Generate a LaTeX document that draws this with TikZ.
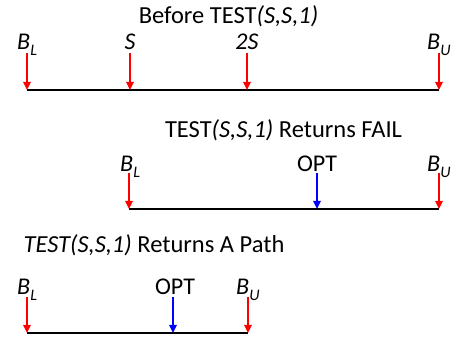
\documentclass[tikz,border=0pt]{standalone}
\usepackage{fontspec}
\setmainfont{Carlito}
\usetikzlibrary{arrows.meta}
\newcommand\mysub[1]{\raisebox{-0.22em}{\fontsize{16}{16}\selectfont\itshape #1}}
\begin{document}
\begin{tikzpicture}[x=1pt,y=-1pt,
  title/.style={inner sep=0pt,font=\fontsize{24.5}{24.5}\selectfont},
  lbl/.style={inner sep=0pt,font=\fontsize{24}{24}\selectfont},
  axis/.style={line width=1.8pt,black},
  redarrow/.style={line width=1.6pt,red,-{Triangle[width=7.5pt,length=8pt]}},
  bluearrow/.style={line width=1.6pt,blue,-{Triangle[width=7.5pt,length=8pt]}}]
\useasboundingbox (0,0) rectangle (455,344);
% Section 1
\node[title,anchor=base] (t1) at (228.5,24) {Before TEST\textit{(S,S,1)}};
\coordinate (a1) at (27,90); \coordinate (b1) at (439,90);
\draw[axis] (a1) -- (b1);
\node[lbl,anchor=base west] (l1a) at (17,50) {\textit{B}\mysub{L}};
\node[lbl,anchor=base] (l1b) at (130,50) {\textit{S}};
\node[lbl,anchor=base] (l1c) at (247,50) {\textit{2S}};
\node[lbl,anchor=base west] (l1d) at (427,50) {\textit{B}\mysub{U}};
\coordinate (p1a) at (27,53); \coordinate (q1a) at (27,90);
\coordinate (p1b) at (130,53); \coordinate (q1b) at (130,90);
\coordinate (p1c) at (247,53); \coordinate (q1c) at (247,90);
\coordinate (p1d) at (439,53); \coordinate (q1d) at (439,90);
\draw[redarrow] (p1a) -- (q1a);
\draw[redarrow] (p1b) -- (q1b);
\draw[redarrow] (p1c) -- (q1c);
\draw[redarrow] (p1d) -- (q1d);
% Section 2
\node[title,anchor=base] (t2) at (283.5,138) {TEST\textit{(S,S,1)} Returns FAIL};
\coordinate (a2) at (129,209); \coordinate (b2) at (439,209);
\draw[axis] (a2) -- (b2);
\node[lbl,anchor=base west] (l2a) at (120,172) {\textit{B}\mysub{L}};
\node[lbl,anchor=base] (l2b) at (317,172) {OPT};
\node[lbl,anchor=base west] (l2c) at (427,172) {\textit{B}\mysub{U}};
\coordinate (p2a) at (129,173); \coordinate (q2a) at (129,209);
\coordinate (p2b) at (317,173); \coordinate (q2b) at (317,209);
\coordinate (p2c) at (439,173); \coordinate (q2c) at (439,209);
\draw[redarrow] (p2a) -- (q2a);
\draw[bluearrow] (p2b) -- (q2b);
\draw[redarrow] (p2c) -- (q2c);
% Section 3
\node[title,anchor=base] (t3) at (154,253) {\textit{TEST(S,S,1)} Returns A Path};
\coordinate (a3) at (27,333); \coordinate (b3) at (248,333);
\draw[axis] (a3) -- (b3);
\node[lbl,anchor=base west] (l3a) at (17,295) {\textit{B}\mysub{L}};
\node[lbl,anchor=base] (l3b) at (175,295) {OPT};
\node[lbl,anchor=base west] (l3c) at (236,295) {\textit{B}\mysub{U}};
\coordinate (p3a) at (27,297); \coordinate (q3a) at (27,333);
\coordinate (p3b) at (173,297); \coordinate (q3b) at (173,333);
\coordinate (p3c) at (248,297); \coordinate (q3c) at (248,333);
\draw[redarrow] (p3a) -- (q3a);
\draw[bluearrow] (p3b) -- (q3b);
\draw[redarrow] (p3c) -- (q3c);
\end{tikzpicture}
\end{document}
